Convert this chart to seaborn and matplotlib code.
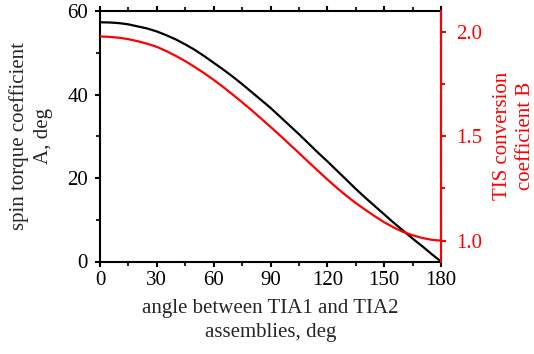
import matplotlib
matplotlib.use("Agg")
import matplotlib.pyplot as plt
import seaborn as sns
import pandas as pd
from matplotlib.ticker import MultipleLocator

angle = [0, 5, 10, 15, 20, 25, 30, 35, 40, 45, 50, 55, 60, 65, 70, 75, 80, 85, 90,
         95, 100, 105, 110, 115, 120, 125, 130, 135, 140, 145, 150, 155, 160, 165, 170, 175, 180]
coef_A = [57.3, 57.25, 57.1, 56.8, 56.3, 55.8, 55.1, 54.2, 53.2, 52.0, 50.7, 49.2, 47.6, 46.0, 44.3, 42.5, 40.6, 38.7, 36.8,
          34.7, 32.6, 30.5, 28.3, 26.1, 24.0, 21.8, 19.6, 17.4, 15.3, 13.3, 11.3, 9.3, 7.4, 5.5, 3.7, 1.8, 0.0]
coef_B = [1.978, 1.976, 1.972, 1.965, 1.955, 1.943, 1.928, 1.908, 1.885, 1.860, 1.832, 1.802, 1.770, 1.736, 1.700, 1.663, 1.625, 1.585, 1.545,
          1.504, 1.462, 1.420, 1.377, 1.335, 1.293, 1.253, 1.215, 1.180, 1.148, 1.117, 1.088, 1.063, 1.042, 1.026, 1.013, 1.004, 1.000]

x_ticks = [0, 30, 60, 90, 120, 150, 180]
left_ticks = [0, 20, 40, 60]
right_ticks = [1.0, 1.5, 2.0]

sns.set_style("ticks")
plt.rcParams['font.family'] = ['Liberation Serif', 'DejaVu Serif']

df = pd.DataFrame({"angle": angle, "A": coef_A, "B": coef_B})

fig = plt.figure(figsize=(5.34, 3.54), dpi=100)
ax = fig.add_axes([100/534, 1 - 261.5/354, 341/534, 250.5/354])
ax2 = ax.twinx()

sns.lineplot(data=df, x="angle", y="A", ax=ax, color="black", linewidth=1.6)
sns.lineplot(data=df, x="angle", y="B", ax=ax2, color="red", linewidth=1.6)

fs = 15
ax.set_xlim(0, 180)
ax.set_ylim(0, 60)
ax2.set_ylim(0.9, 2.1)

ax.set_xticks(x_ticks)
ax.set_xticklabels([str(v) for v in x_ticks], fontsize=fs)
ax.xaxis.set_minor_locator(MultipleLocator(15))
ax.set_yticks(left_ticks)
ax.set_yticklabels([str(v) for v in left_ticks], fontsize=fs)
ax.yaxis.set_minor_locator(MultipleLocator(10))
ax2.set_yticks(right_ticks)
ax2.set_yticklabels([f"{v:.1f}" for v in right_ticks], fontsize=fs, color="red")
ax2.yaxis.set_minor_locator(MultipleLocator(0.25))

ax.tick_params(axis="both", which="major", direction="out", length=3.6, width=1.5, colors="black")
ax.tick_params(axis="both", which="minor", direction="out", length=2.6, width=1.5)
ax.tick_params(axis="x", which="both", top=True, pad=3)
ax.tick_params(axis="y", which="major", pad=5)
ax2.tick_params(axis="y", which="major", direction="out", length=3.6, width=1.5, colors="red", pad=7)
ax2.tick_params(axis="y", which="minor", direction="out", length=2.6, width=1.5, colors="red")

for name, sp in ax.spines.items():
    sp.set_visible(True)
    sp.set_linewidth(1.5)
    sp.set_color("black")
for name, sp in ax2.spines.items():
    sp.set_visible(name == "right")
    sp.set_linewidth(1.5)
ax2.spines["right"].set_color("red")

ax.set_xlabel("angle between TIA1 and TIA2\nassemblies, deg", fontsize=fs, labelpad=7, linespacing=1.32)
ax.set_ylabel("spin torque coefficient\nA, deg", fontsize=fs, labelpad=10, linespacing=1.38)
ax2.set_ylabel("TIS conversion\ncoefficient B", fontsize=fs, color="red", rotation=90, labelpad=8, linespacing=1.32)

fig.savefig("out.png", dpi=100)
